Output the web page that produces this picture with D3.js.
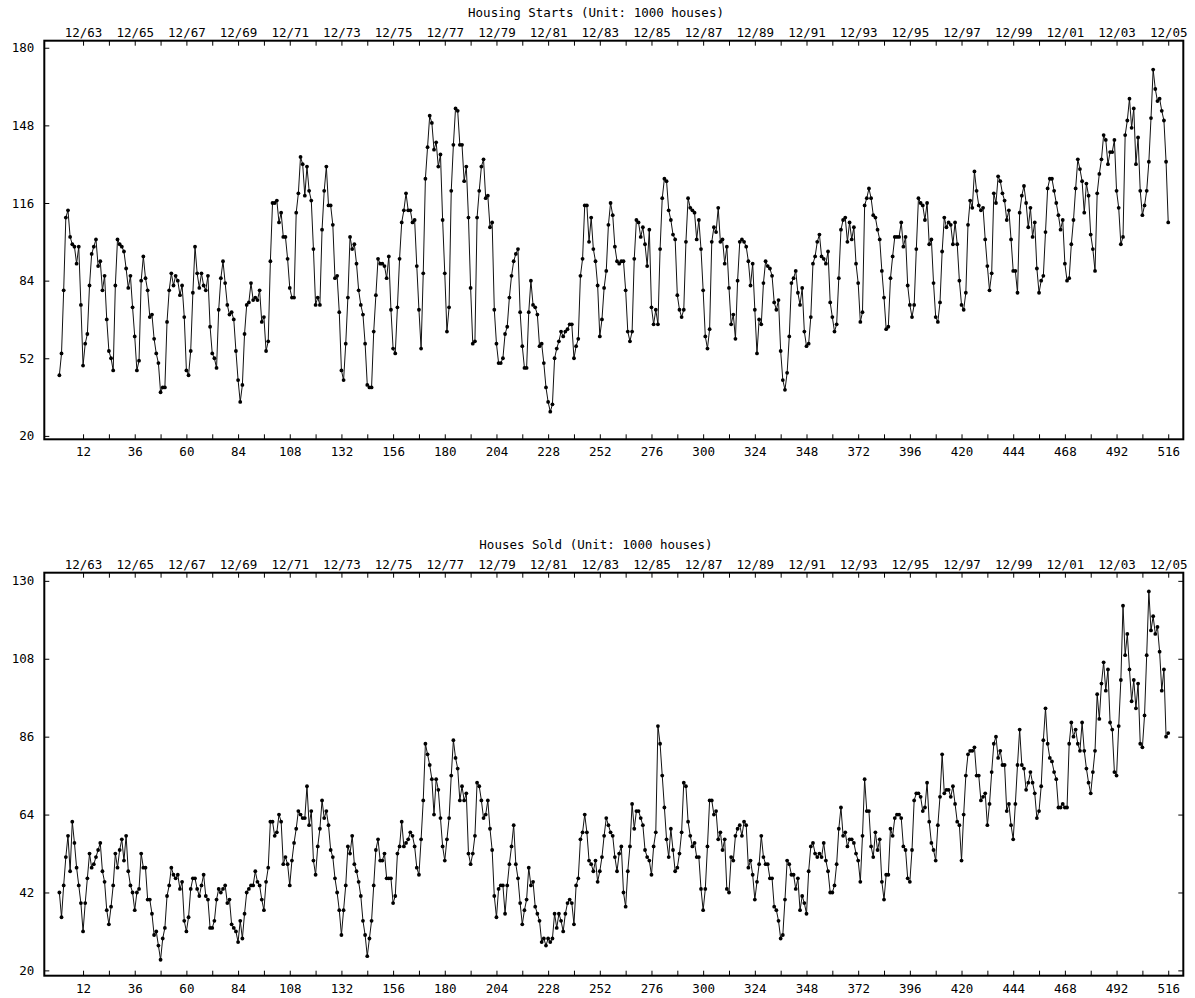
<!DOCTYPE html>
<html><head><meta charset="utf-8">
<script src="https://cdn.jsdelivr.net/npm/d3@7"></script>
<style>
body{margin:0;background:#fff}
text{font-family:"DejaVu Sans Mono",monospace;font-size:12.5px;fill:#000}
</style>
</head><body>
<svg id="chart" width="1195" height="998"></svg>
<script>
// ---------- data (monthly, Jan 1963 = 1 ... Dec 2005 = 516) ----------
const housingStarts = [
45,54,80,110,113,102,99,98,91,98,74,49,
58,62,82,95,98,101,90,92,80,86,68,55,
52,47,82,101,99,98,96,89,81,86,73,61,
47,51,84,94,85,80,69,70,60,54,50,38,
40,40,67,80,87,82,86,84,78,82,69,47,
45,55,79,98,87,81,87,82,80,86,65,54,
52,48,72,85,92,83,74,70,71,68,55,43,
34,41,62,74,75,83,76,77,76,80,67,69,
55,59,92,116,116,117,108,112,102,102,93,81,
77,77,112,120,135,132,119,131,121,117,97,74,
77,74,105,121,131,115,115,107,85,86,71,47,
43,58,77,102,97,99,91,80,74,70,58,41,
40,40,63,78,93,91,91,90,85,94,72,56,
54,73,93,108,113,120,113,113,108,109,90,72,
56,87,126,139,152,149,138,141,131,136,109,87,
63,73,121,140,155,154,140,140,125,131,110,81,
58,59,110,121,131,134,118,119,106,108,72,58,
50,50,52,62,65,77,86,92,95,97,71,57,
48,48,71,84,74,73,70,57,58,50,40,34,
30,33,52,56,59,63,61,63,64,66,66,52,
57,60,86,93,115,115,100,110,97,92,82,61,
68,81,88,107,116,111,98,92,91,92,92,80,
63,59,63,93,109,108,102,106,99,90,105,73,
66,72,66,97,118,126,125,113,109,103,101,78,
72,69,72,100,118,114,113,112,101,109,97,80,
61,56,64,100,106,104,114,100,101,91,98,81,
66,70,60,84,100,101,100,98,92,82,91,72,
54,68,66,83,92,90,89,86,75,72,76,55,
43,39,46,61,83,85,88,79,74,81,63,57,
58,69,91,94,100,103,94,93,91,96,75,69,
63,66,85,105,109,110,100,108,101,106,91,83,
67,71,115,118,122,118,111,110,105,101,88,77,
64,65,85,94,102,102,102,108,98,102,82,74,
69,74,97,118,116,115,109,116,99,101,83,69,
67,75,96,110,106,108,107,99,108,99,84,74,
72,79,107,117,114,129,121,115,113,114,101,90,
80,87,120,116,127,125,120,117,109,113,101,88,
88,79,112,119,123,116,106,114,102,108,89,79,
84,86,104,122,126,126,121,116,111,105,109,91,
84,85,99,109,122,134,130,125,112,124,119,103,
97,88,120,128,134,144,142,132,137,137,142,121,
114,99,102,144,150,159,147,155,132,143,121,111,
115,121,133,151,171,163,158,159,154,150,133,108
];
const housesSold = [
42,35,44,52,58,48,62,56,49,44,39,31,
39,46,53,49,50,52,54,56,48,45,37,33,
38,44,53,49,54,57,51,58,48,44,42,37,
42,43,53,49,49,40,40,36,30,31,27,23,
29,32,41,44,49,47,46,47,43,45,34,31,
35,43,46,46,43,41,44,47,41,40,32,32,
34,40,43,42,43,44,39,40,33,32,31,28,
34,29,36,42,43,44,44,48,45,44,40,37,
45,49,62,62,58,59,64,62,50,52,50,44,
51,56,60,65,64,63,63,72,61,65,51,47,
55,60,68,63,65,61,54,52,46,42,37,30,
37,44,55,53,58,50,48,45,41,34,30,24,
29,34,44,54,57,51,51,53,46,46,46,39,
41,53,55,62,55,56,57,59,58,55,49,47,
57,68,84,81,78,74,64,74,71,63,55,51,
57,63,75,85,80,77,68,72,68,70,53,50,
53,58,73,72,68,63,64,68,60,54,41,35,
43,44,44,36,44,50,55,61,50,46,39,33,
37,40,49,44,45,38,36,34,28,29,27,29,
28,29,36,32,36,34,31,36,39,40,39,33,
44,46,57,59,64,59,51,50,48,51,45,48,
52,58,63,61,59,58,52,48,53,55,42,38,
48,55,67,60,65,65,63,61,54,52,51,47,
55,59,89,84,75,66,57,52,60,54,48,49,
53,59,73,72,62,58,55,56,52,52,43,37,
43,55,68,68,64,65,57,59,54,57,43,42,
52,51,58,60,61,58,62,61,49,51,47,40,
45,50,58,52,50,50,46,46,38,37,34,29,
30,40,51,50,47,47,43,46,37,41,39,36,
48,55,56,53,52,53,52,56,51,48,42,42,
44,50,60,66,58,59,55,57,57,56,53,51,
45,58,74,65,65,55,52,59,54,57,45,40,
47,47,60,58,63,64,64,63,55,54,46,45,
54,68,70,70,69,65,66,73,62,56,54,51,
61,69,81,70,71,71,69,72,67,62,61,51,
64,75,81,82,82,83,75,75,68,69,70,61,
67,76,84,86,80,82,78,78,65,67,61,57,
67,78,88,78,77,71,73,76,73,70,63,65,
72,85,94,84,80,79,76,74,66,66,67,66,
66,84,90,86,88,84,82,90,82,77,73,70,
76,82,98,91,101,107,99,105,90,88,76,75,
89,102,123,109,115,105,96,102,94,101,84,83,
92,109,127,116,120,115,117,110,99,105,86,87
];
const titles = ["Housing Starts (Unit: 1000 houses)", "Houses Sold (Unit: 1000 houses)"];
const xTickValues = [12,24,36,48,60,72,84,96,108,120,132,144,156,168,180,192,204,216,228,240,252,264,276,288,300,312,324,336,348,360,372,384,396,408,420,432,444,456,468,480,492,504,516];
const xLabelValues = [12,36,60,84,108,132,156,180,204,228,252,276,300,324,348,372,396,420,444,468,492,516];
const dateLabels = ["12/63","12/65","12/67","12/69","12/71","12/73","12/75","12/77","12/79","12/81","12/83","12/85","12/87","12/89","12/91","12/93","12/95","12/97","12/99","12/01","12/03","12/05"];
const startsYTicks = [20,52,84,116,148,180];
const soldYTicks = [20,42,64,86,108,130];

// ---------- layout ----------
const svg = d3.select("#chart");
const left = 44.3, right = 1183.3;
const panels = [
  {title: titles[0], values: housingStarts, yTicks: startsYTicks, yDomain: [18.6, 182.9], top: 40.7, bottom: 439.3, rightTicks: false},
  {title: titles[1], values: housesSold, yTicks: soldYTicks, yDomain: [18.5, 132.3], top: 572.7, bottom: 975.7, rightTicks: true}
];
const x = d3.scaleLinear().domain([-6, 523]).range([left, right]);
const bottomFmt = d => xLabelValues.includes(d) ? String(d) : "";
const topFmt = d => { const k = xLabelValues.indexOf(d); return k >= 0 ? dateLabels[k] : ""; };

panels.forEach(p => {
  const y = d3.scaleLinear().domain(p.yDomain).range([p.bottom, p.top]);
  const g = svg.append("g");
  const pts = p.values.map((v, i) => [i + 1, v]);

  // bottom axis
  const ab = g.append("g").attr("transform", `translate(0,${p.bottom})`)
    .call(d3.axisBottom(x).tickValues(xTickValues).tickFormat(bottomFmt).tickSizeInner(-5).tickSizeOuter(0).tickPadding(8));
  // top axis
  const at = g.append("g").attr("transform", `translate(0,${p.top})`)
    .call(d3.axisTop(x).tickValues(xTickValues).tickFormat(topFmt).tickSizeInner(-5).tickSizeOuter(0).tickPadding(4));
  // left axis
  const al = g.append("g").attr("transform", `translate(${left},0)`)
    .call(d3.axisLeft(y).tickValues(p.yTicks).tickFormat(d3.format("d")).tickSizeInner(-5).tickSizeOuter(0).tickPadding(10));
  const axes = [ab, at, al];
  if (p.rightTicks) {
    axes.push(g.append("g").attr("transform", `translate(${right},0)`)
      .call(d3.axisRight(y).tickValues(p.yTicks).tickFormat("").tickSizeInner(-5).tickSizeOuter(0)));
  }
  axes.forEach(a => {
    a.select(".domain").remove();
    a.selectAll("line").attr("stroke", "#000");
    a.selectAll("text").attr("font-family", '"DejaVu Sans Mono", monospace').attr("font-size", "12.5px").attr("fill", "#000");
  });
  at.selectAll("text").attr("dy", "0em");

  // series line and points
  g.append("path").datum(pts)
    .attr("fill", "none").attr("stroke", "#111").attr("stroke-width", 1)
    .attr("d", d3.line().x(d => x(d[0])).y(d => y(d[1])));
  g.selectAll("circle").data(pts).join("circle")
    .attr("cx", d => x(d[0])).attr("cy", d => y(d[1])).attr("r", 1.9).attr("fill", "#000");

  // frame
  g.append("rect").attr("x", left).attr("y", p.top).attr("width", right - left).attr("height", p.bottom - p.top)
    .attr("fill", "none").attr("stroke", "#000").attr("stroke-width", 2);

  // title
  g.append("text").attr("x", 596).attr("y", p.top - 24).attr("text-anchor", "middle").text(p.title);
});
</script>
</body></html>
